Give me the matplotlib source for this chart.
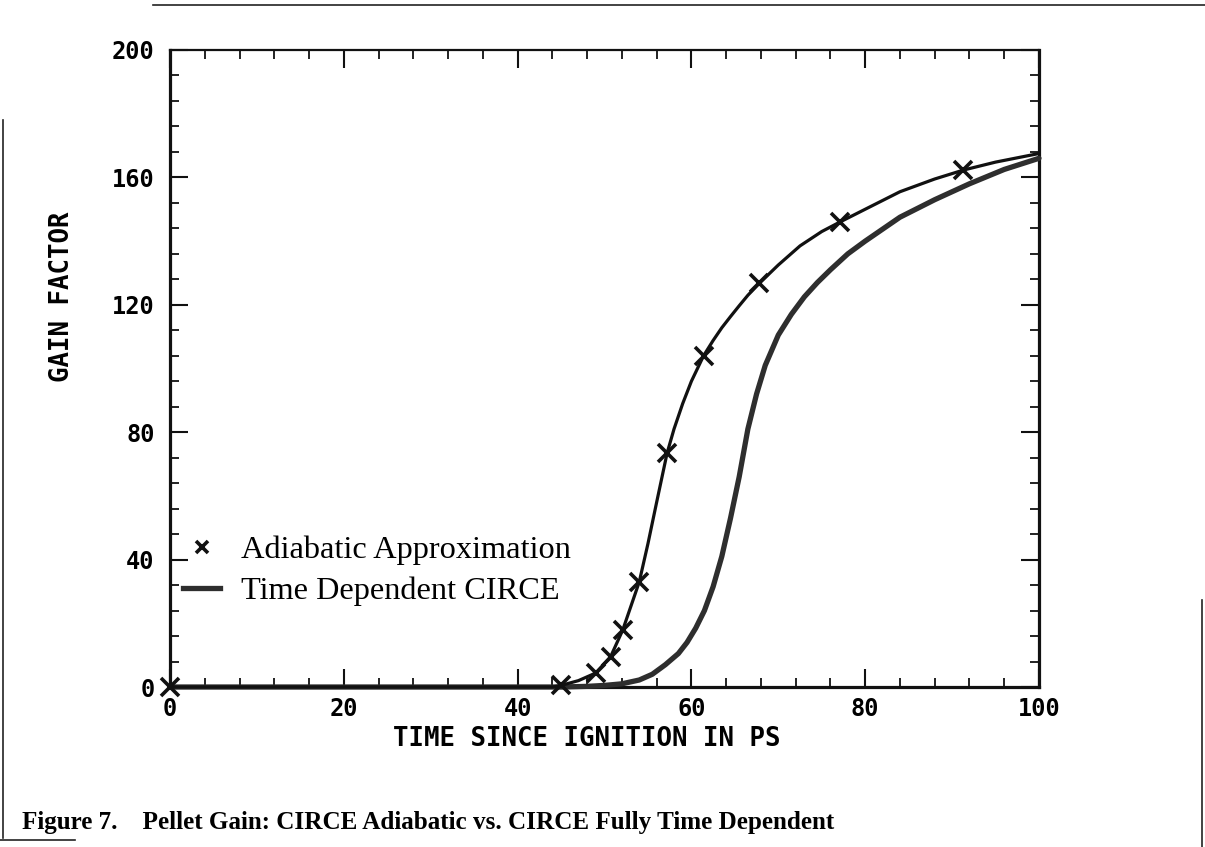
import matplotlib
matplotlib.use("Agg")
import matplotlib.pyplot as plt
from matplotlib.lines import Line2D
from matplotlib.ticker import MultipleLocator
from matplotlib.font_manager import FontProperties

# adiabatic approximation: the crosses and the curve drawn through them
adiab_mark_x = [0, 45, 49, 50.7, 52.1, 54, 57.2, 61.4, 67.8, 77.1, 91.3]
adiab_mark_y = [0, 0.5, 4.4, 9.5, 17.9, 33, 73.4, 104, 126.7, 146, 162.3]
adiab_x = [0, 44, 45, 47, 49, 50.7, 52.1, 54, 55, 56, 57.2, 58, 59, 60,
           61.4, 62.5, 63.5, 64.5, 65.5, 66.5, 67.8, 70, 72.5, 75, 77.1,
           80, 84, 88, 91.3, 95, 100]
adiab_y = [0, 0, 0.5, 2, 4.4, 9.5, 17.9, 33, 45, 58, 73.4, 81, 89, 96,
           104, 108.8, 112.8, 116.3, 119.7, 123, 126.7, 132.5, 138.5, 143,
           146, 150, 155.5, 159.5, 162.3, 164.8, 167.5]

# fully time dependent CIRCE
circe_x = [0, 45, 48, 50, 52, 54, 55.5, 57, 58.5, 59.5, 60.5, 61.5, 62.5,
           63.5, 64.5, 65.5, 66.5, 67.5, 68.5, 70, 71.5, 73, 74.5, 76, 78,
           80, 84, 88, 92, 96, 100]
circe_y = [0, 0, 0.2, 0.5, 1, 2.2, 4, 7, 10.5, 14, 18.5, 24, 31.5,
           41, 53, 66, 81, 92, 101, 110.5, 117, 122.5, 127, 131, 136,
           140, 147.5, 153, 158, 162.5, 166]

legend_labels = ["Adiabatic Approximation", "Time Dependent CIRCE"]
caption = "Figure 7.    Pellet Gain: CIRCE Adiabatic vs. CIRCE Fully Time Dependent"

W, H = 1205, 847
fig = plt.figure(figsize=(W / 100, H / 100), dpi=100)
ax = fig.add_axes([170 / W, (H - 687) / H, 869 / W, 637 / H])

plotter = dict(family="DejaVu Sans Mono", fontweight="bold")
ink = "#111111"

ax.plot(circe_x, circe_y, color="#2e2e2e", lw=3.8, solid_capstyle="round",
        solid_joinstyle="round", zorder=3, clip_on=False)
ax.plot(adiab_x, adiab_y, color=ink, lw=2.3, solid_joinstyle="round",
        zorder=4, clip_on=False)
ax.plot(adiab_mark_x, adiab_mark_y, linestyle="none", marker="x", ms=13,
        mew=2.6, color=ink, zorder=5, clip_on=False)

ax.set_xlim(0, 100)
ax.set_ylim(0, 200)
ax.xaxis.set_major_locator(MultipleLocator(20))
ax.xaxis.set_minor_locator(MultipleLocator(4))
ax.yaxis.set_major_locator(MultipleLocator(40))
ax.yaxis.set_minor_locator(MultipleLocator(8))
ax.tick_params(which="both", direction="in", top=True, right=True, color=ink)
ax.tick_params(which="major", length=13, width=1.5)
ax.tick_params(which="minor", length=6.5, width=1.3)
ax.tick_params(axis="x", which="major", pad=7, labelsize=17)
ax.tick_params(axis="y", which="major", pad=11, labelsize=17)
for lab in ax.get_xticklabels() + ax.get_yticklabels():
    lab.set_fontweight("bold")
    lab.set_family("DejaVu Sans Mono")
for side, sp in ax.spines.items():
    sp.set_linewidth(1.6 if side == "top" else 2.3)
    sp.set_color(ink)

ax.set_xlabel("TIME SINCE IGNITION IN PS", fontsize=18.5, **plotter)
ax.set_ylabel("GAIN FACTOR", fontsize=18.5, **plotter)
ax.xaxis.set_label_coords(0.48, -0.061)
ax.yaxis.set_label_coords(-0.109, 0.612)

renderer = fig.canvas.get_renderer()


def fit_size(text, target_px):
    w = text.get_window_extent(renderer).width
    text.set_fontsize(text.get_fontsize() * target_px / w)
    return text.get_fontsize()


# legend text in a book serif, sized to the width seen in the scan
probe = fig.text(0, 0, legend_labels[0], family="Liberation Serif", fontsize=22)
leg_size = fit_size(probe, 330)
probe.remove()

handles = [
    Line2D([], [], linestyle="none", marker="x", ms=9, mew=2.6, color=ink),
    Line2D([], [], lw=3.8, color="#2e2e2e"),
]
ax.legend(handles, legend_labels, loc="upper left",
          bbox_to_anchor=(0.015, 0.238), frameon=False,
          prop=FontProperties(family="Liberation Serif", size=leg_size),
          handlelength=1.15, handletextpad=0.65, labelspacing=0.35,
          borderpad=0, borderaxespad=0)

cap = fig.text(22 / W, (H - 822) / H, caption, family="Liberation Serif",
               fontweight="bold", fontsize=17, va="center", ha="left")
fit_size(cap, 816)

# page frame remnants from the scan
frame = dict(color="#222222", lw=1.2)
fig.add_artist(Line2D([153 / W, 1], [1 - 5 / H, 1 - 5 / H], **frame))
fig.add_artist(Line2D([3 / W, 3 / W], [1 - 120 / H, 1 - 838 / H], **frame))
fig.add_artist(Line2D([0, 75 / W], [1 - 840 / H, 1 - 840 / H], **frame))
fig.add_artist(Line2D([1202 / W, 1202 / W], [1 - 600 / H, 0], **frame))

fig.savefig("out.png", dpi=100)
